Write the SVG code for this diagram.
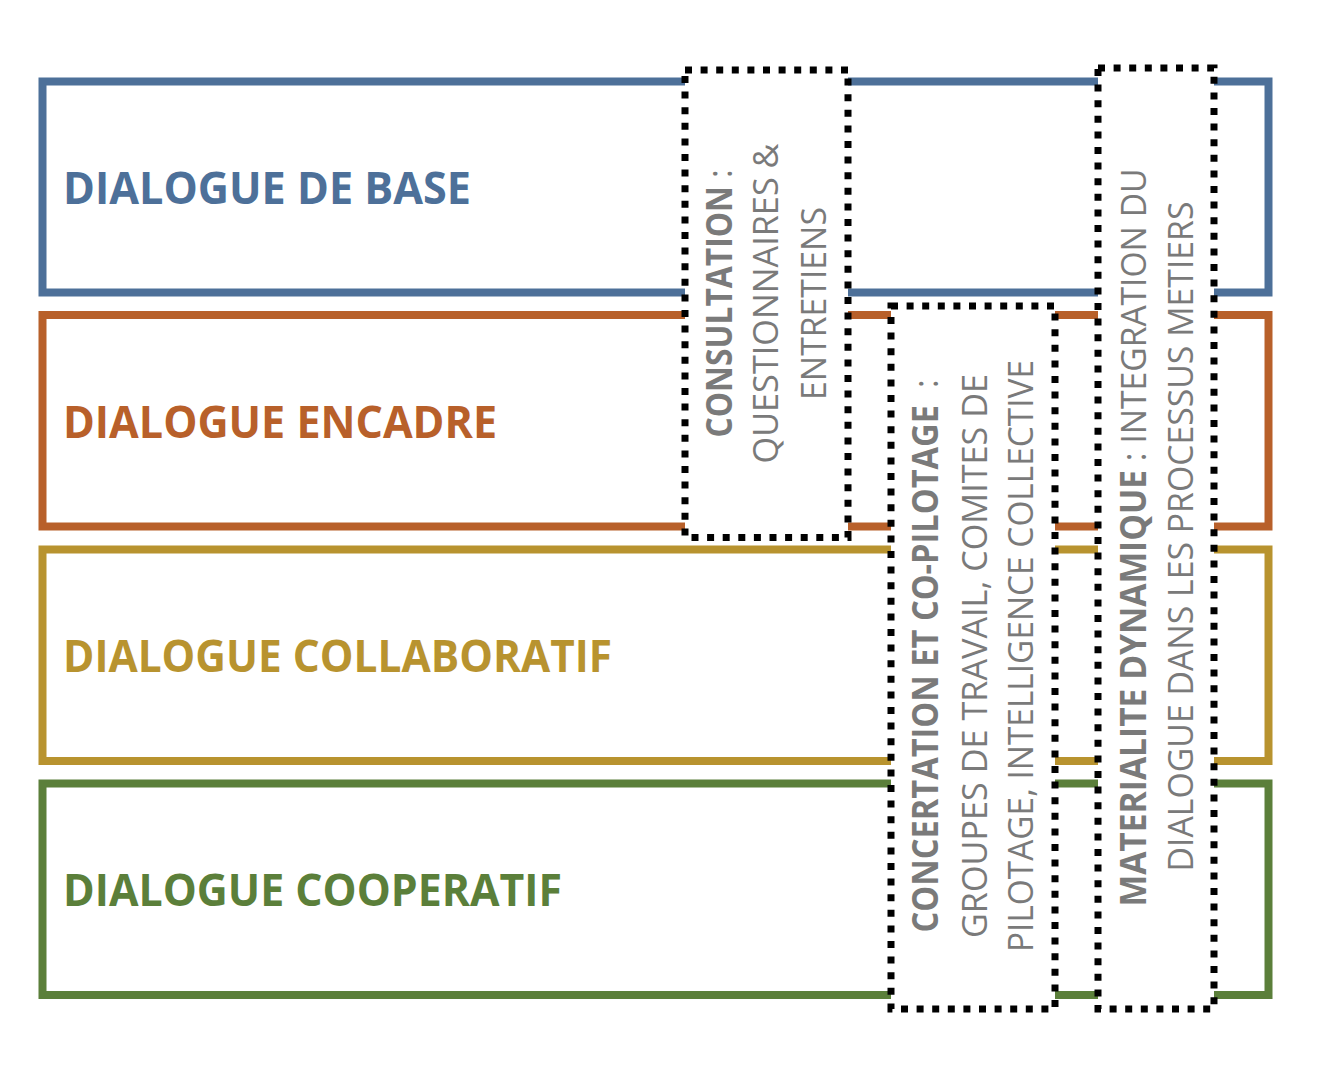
<svg xmlns="http://www.w3.org/2000/svg" width="1336" height="1078" viewBox="0 0 1336 1078">
  <style>
    .band { fill: none; stroke-width: 8; }
    .lbl { font-family: "Open Sans", "Liberation Sans", sans-serif; font-weight: 700; font-size: 44px; }
    .dot { fill: #ffffff; stroke: #000000; stroke-width: 7; stroke-dasharray: 7 8.6; }
    .vt { font-family: "Open Sans", "Liberation Sans", sans-serif; font-size: 35px; fill: #7A7A7A; text-anchor: middle; }
    .b { font-weight: 700; }
  </style>
  <rect width="1336" height="1078" fill="#ffffff"/>

  <g id="dialogue-de-base">
    <rect class="band" x="42.5" y="81.5" width="1226" height="211" stroke="#4D7099"/>
    <text class="lbl" x="63" y="204" fill="#4D7099" textLength="408" lengthAdjust="spacingAndGlyphs">DIALOGUE DE BASE</text>
  </g>
  <g id="dialogue-encadre">
    <rect class="band" x="42.5" y="315" width="1226" height="211.5" stroke="#B8602A"/>
    <text class="lbl" x="63" y="437.5" fill="#B8602A" textLength="434" lengthAdjust="spacingAndGlyphs">DIALOGUE ENCADRE</text>
  </g>
  <g id="dialogue-collaboratif">
    <rect class="band" x="42.5" y="549.5" width="1226" height="211.5" stroke="#B8932F"/>
    <text class="lbl" x="63" y="671.5" fill="#B8932F" textLength="549" lengthAdjust="spacingAndGlyphs">DIALOGUE COLLABORATIF</text>
  </g>
  <g id="dialogue-cooperatif">
    <rect class="band" x="42.5" y="783.5" width="1226" height="211.5" stroke="#5B7F3A"/>
    <text class="lbl" x="63" y="905.5" fill="#5B7F3A" textLength="499" lengthAdjust="spacingAndGlyphs">DIALOGUE COOPERATIF</text>
  </g>

  <g id="consultation">
    <rect class="dot" x="685" y="70" width="163" height="467.5"/>
    <text class="vt" transform="translate(731.5 303.5) rotate(-90)" x="0" y="0" textLength="268" lengthAdjust="spacingAndGlyphs"><tspan class="b">CONSULTATION</tspan> :</text>
    <text class="vt" transform="translate(778.3 303.5) rotate(-90)" x="0" y="0" textLength="320" lengthAdjust="spacingAndGlyphs">QUESTIONNAIRES &amp;</text>
    <text class="vt" transform="translate(825.7 303.5) rotate(-90)" x="0" y="0" textLength="193" lengthAdjust="spacingAndGlyphs">ENTRETIENS</text>
  </g>

  <g id="concertation">
    <rect class="dot" x="891" y="306" width="164" height="703"/>
    <text class="vt" xml:space="preserve" transform="translate(938 656) rotate(-90)" x="0" y="0" textLength="553" lengthAdjust="spacingAndGlyphs"><tspan class="b">CONCERTATION ET CO-PILOTAGE</tspan>  :</text>
    <text class="vt" transform="translate(986.5 656) rotate(-90)" x="0" y="0" textLength="564" lengthAdjust="spacingAndGlyphs">GROUPES DE TRAVAIL, COMITES DE</text>
    <text class="vt" transform="translate(1033 656) rotate(-90)" x="0" y="0" textLength="592" lengthAdjust="spacingAndGlyphs">PILOTAGE, INTELLIGENCE COLLECTIVE</text>
  </g>

  <g id="materialite">
    <rect class="dot" x="1098" y="68" width="116" height="941"/>
    <text class="vt" transform="translate(1146 537.5) rotate(-90)" x="0" y="0" textLength="738" lengthAdjust="spacingAndGlyphs"><tspan class="b">MATERIALITE DYNAMIQUE</tspan> : INTEGRATION DU</text>
    <text class="vt" transform="translate(1193 536.5) rotate(-90)" x="0" y="0" textLength="670" lengthAdjust="spacingAndGlyphs">DIALOGUE DANS LES PROCESSUS METIERS</text>
  </g>
</svg>
